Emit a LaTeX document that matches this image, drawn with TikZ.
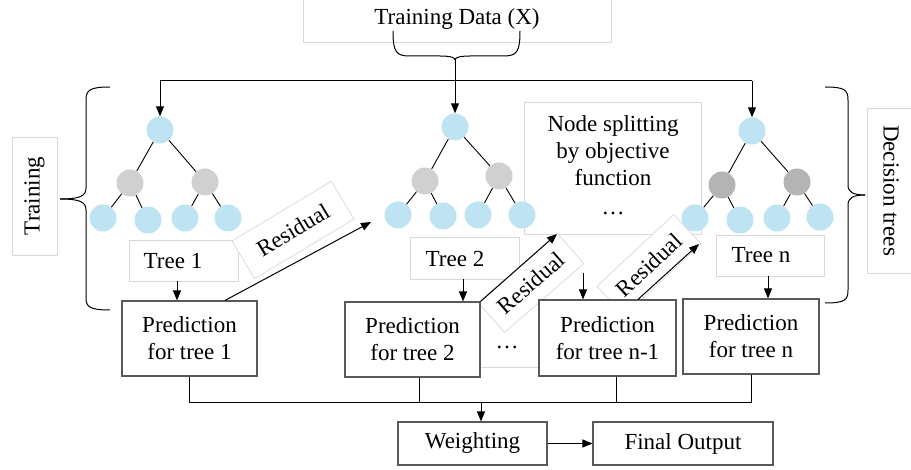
\documentclass[tikz,border=0pt]{standalone}
\usepackage{fontspec}
\setmainfont{Liberation Serif}
\usetikzlibrary{arrows.meta,calc}
\definecolor{tblue}{HTML}{BEE3F3}
\definecolor{tgray}{HTML}{D0D0D0}
\definecolor{tgrayd}{HTML}{B4B4B4}
\definecolor{lightb}{HTML}{D9D9D9}
\definecolor{darkb}{HTML}{595959}
\begin{document}
\begin{tikzpicture}[x=1pt,y=-1pt, font=\fontsize{23}{27}\selectfont,
 leafn/.style={circle,fill=tblue,minimum size=27pt,inner sep=0pt},
 midn/.style={circle,fill=tgray,minimum size=27pt,inner sep=0pt},
 midd/.style={circle,fill=tgrayd,minimum size=27pt,inner sep=0pt},
 edgeln/.style={draw=black,line width=0.9pt},
 lbox/.style={draw=lightb,line width=0.7pt,fill=white,inner sep=0pt},
 pbox/.style={draw=darkb,line width=1.1pt,fill=white,inner sep=0pt,align=center},
 arr/.style={draw=black,line width=1pt,-{Triangle[length=10pt,width=8pt]}},
 ln/.style={draw=black,line width=1pt},
 txt/.style={inner sep=0pt,align=center}]
\useasboundingbox (0,0) rectangle (911,470);

% light text boxes
\node[lbox, minimum width=308pt, minimum height=46pt] (td) at (457,19) {Training Data (X)};
\node[lbox, rotate=90, minimum width=118pt, minimum height=45pt] (trn) at (34.5,196) {Training};
\node[lbox, rotate=-90, minimum width=165pt, minimum height=48pt] (dec) at (891,190.5) {Decision trees};
\node[lbox, minimum width=177pt, minimum height=132pt] (ns) at (612.5,168) {};
\node[txt] (nst) at (613,151) {Node splitting\\by objective\\function};

% top brace and data arrows
\coordinate (cusp) at (455,60);
\draw[ln] (393,31) .. controls (393,52) and (396,56) .. (410,56) -- (440,56) .. controls (452,56) and (455,58) .. (cusp);
\draw[ln] (520,31) .. controls (520,52) and (517,56) .. (503,56) -- (470,56) .. controls (458,56) and (455,58) .. (cusp);
\coordinate (ja) at (160,81);
\coordinate (jb) at (752,81);
\draw[ln] (ja) -- (jb);

% left and right braces
\draw[ln] (110,87) .. controls (90,87) and (86,90) .. (86,100) -- (86,188) .. controls (86,196) and (80,199) .. (60,199);
\draw[ln] (110,310) .. controls (90,310) and (86,307) .. (86,298) -- (86,210) .. controls (86,202) and (80,199) .. (60,199);
\draw[ln] (825,87) .. controls (845,87) and (848,90) .. (848,100) -- (848,185) .. controls (848,192) and (853,195) .. (865,195);
\draw[ln] (825,303) .. controls (845,303) and (848,300) .. (848,290) -- (848,205) .. controls (848,198) and (853,195) .. (865,195);

% tree 1
\node[leafn] (r1) at (160,130) {};
\node[midn] (g11) at (130,183) {};
\node[midn] (g12) at (205,182) {};
\node[leafn] (l11) at (103,218) {};
\node[leafn] (l12) at (148,220) {};
\node[leafn] (l13) at (185,218) {};
\node[leafn] (l14) at (228,218) {};
\draw[edgeln] (r1) -- (g11) (r1) -- (g12) (g11) -- (l11) (g11) -- (l12) (g12) -- (l13) (g12) -- (l14);
% tree 2
\node[leafn] (r2) at (455,127) {};
\node[midn] (g21) at (425,181) {};
\node[midn] (g22) at (499,176) {};
\node[leafn] (l21) at (398,215) {};
\node[leafn] (l22) at (443,216) {};
\node[leafn] (l23) at (478,215) {};
\node[leafn] (l24) at (522,215) {};
\draw[edgeln] (r2) -- (g21) (r2) -- (g22) (g21) -- (l21) (g21) -- (l22) (g22) -- (l23) (g22) -- (l24);
% tree n
\node[leafn] (rn) at (752,131) {};
\node[midd] (gn1) at (722,185) {};
\node[midd] (gn2) at (797,182) {};
\node[leafn] (ln1) at (695,218) {};
\node[leafn] (ln2) at (740,220) {};
\node[leafn] (ln3) at (777,218) {};
\node[leafn] (ln4) at (820,217) {};
\draw[edgeln] (rn) -- (gn1) (rn) -- (gn2) (gn1) -- (ln1) (gn1) -- (ln2) (gn2) -- (ln3) (gn2) -- (ln4);

\draw[arr] (cusp) -- (r2);
\draw[arr] (ja) -- (r1);
\draw[arr] (jb) -- (rn);

% tree labels
\node[lbox, minimum width=109pt, minimum height=41pt] (tb1) at (183.5,260.5) {};
\node[txt] (tl1) at (173,261) {Tree 1};
\node[lbox, minimum width=109pt, minimum height=42pt] (tb2) at (464.5,258) {};
\node[txt] (tl2) at (455,259) {Tree 2};
\node[lbox, minimum width=108pt, minimum height=41pt] (tbn) at (770,255.5) {};
\node[txt] (tln) at (761,255) {Tree n};

% residual boxes
\node[lbox, rotate=31, minimum width=116pt, minimum height=44pt] (rs1) at (293,230) {Residual};
\node[lbox, rotate=41, minimum width=105pt, minimum height=40pt] (rs2) at (531,283) {Residual};
\node[lbox, rotate=43, minimum width=105pt, minimum height=40pt] (rs3) at (649,265) {Residual};
\node[txt] (nsd) at (613,213) {…};

% predictions
\node[pbox, minimum width=135pt, minimum height=75pt] (p1) at (189.5,338.5) {Prediction\\for tree 1};
\node[pbox, minimum width=135pt, minimum height=75pt] (p2) at (412.5,339.5) {Prediction\\for tree 2};
\node[pbox, minimum width=137pt, minimum height=76pt] (p3) at (607.5,338) {Prediction\\for tree n-1};
\node[pbox, minimum width=136pt, minimum height=75pt] (p4) at (751,336.5) {Prediction\\for tree n};
\node[txt] (pd) at (507,347) {…};
\coordinate (q367) at (0,367);
\draw[draw=lightb, line width=0.7pt] (p2.east |- q367) -- (p3.west |- q367);

\node[pbox, minimum width=149pt, minimum height=43pt] (wt) at (472.5,443.5) {Weighting};
\node[pbox, minimum width=180pt, minimum height=43pt] (fo) at (683,443.5) {Final Output};

% tree label arrows
\coordinate (a1) at (177,281);
\coordinate (a2) at (463,279);
\coordinate (a3) at (583,273);
\coordinate (a4) at (768,276);
\draw[arr] (a1) -- (a1 |- p1.north);
\draw[arr] (a2) -- (a2 |- p2.north);
\draw[arr] (a3) -- (a3 |- p3.north);
\draw[arr] (a4) -- (a4 |- p4.north);

% residual arrows
\coordinate (s1) at (225,0);
\coordinate (e1) at (371,222);
\coordinate (e2) at (557,234);
\coordinate (s3) at (638,0);
\coordinate (e3) at (699,244);
\draw[arr] (s1 |- p1.north) -- (e1);
\draw[arr] (p2.north east) -- (e2);
\draw[arr] (s3 |- p3.north) -- (e3);

% collector
\coordinate (cy) at (0,403);
\coordinate (c2) at (419,0);
\coordinate (c3) at (616,0);
\coordinate (cw) at (481,403);
\draw[ln] (p1.south) -- (p1.south |- cy);
\draw[ln] (c2 |- p2.south) -- (c2 |- cy);
\draw[ln] (c3 |- p3.south) -- (c3 |- cy);
\draw[ln] (p4.south) -- (p4.south |- cy);
\draw[ln] (p1.south |- cy) -- (p4.south |- cy);
\draw[arr] (cw) -- (cw |- wt.north);
\draw[arr] (wt.east) -- (fo.west);
\end{tikzpicture}
\end{document}
